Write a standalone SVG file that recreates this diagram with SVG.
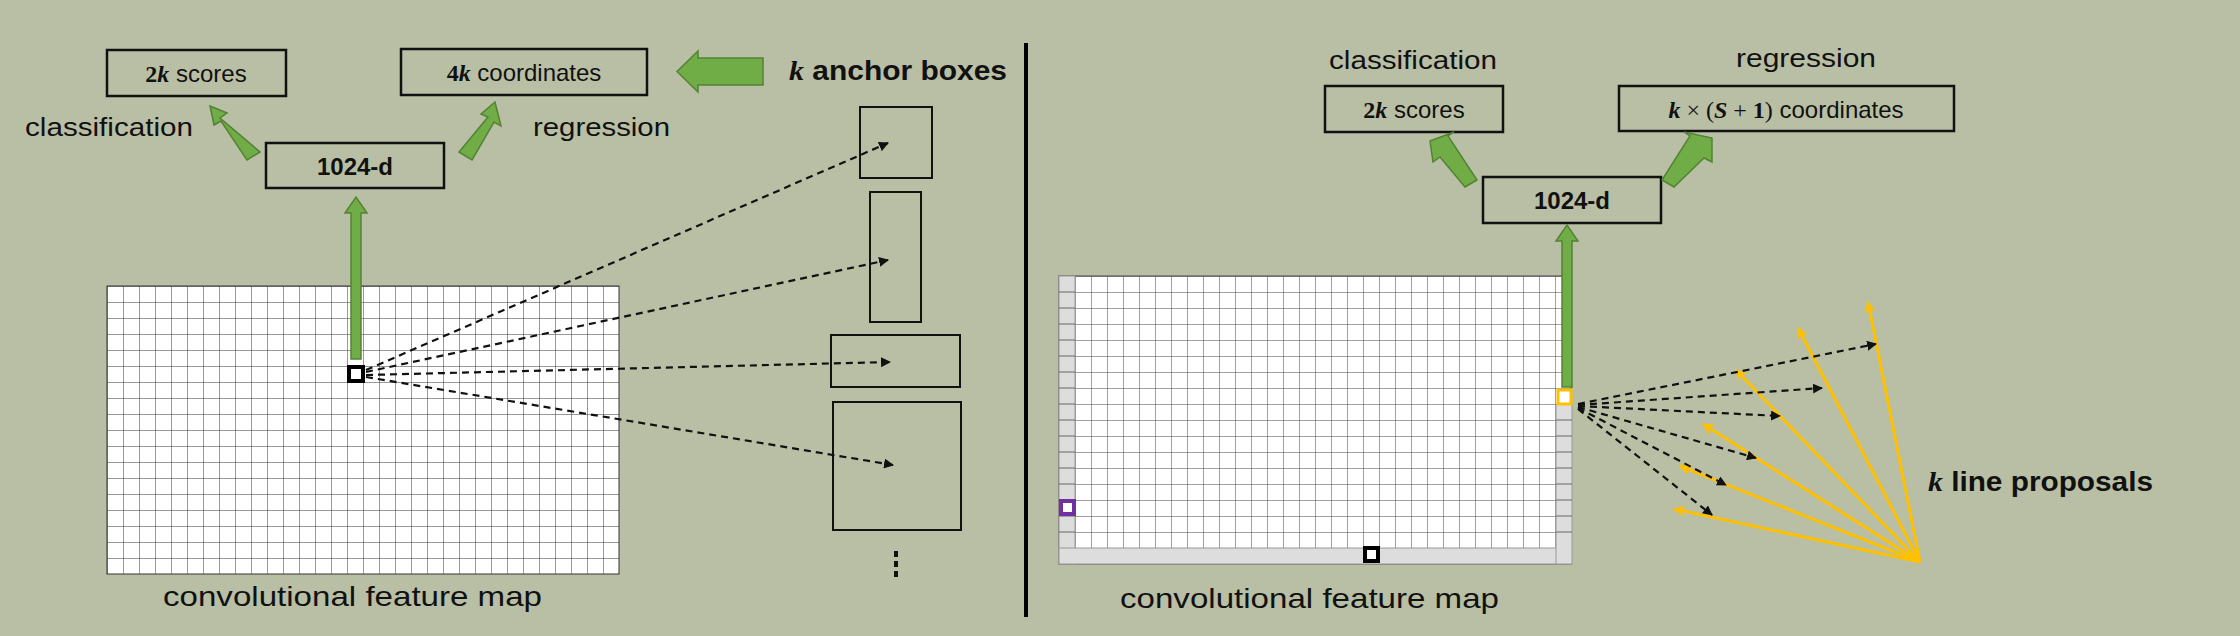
<svg xmlns="http://www.w3.org/2000/svg" width="2240" height="636" viewBox="0 0 2240 636">
<style>
.t{font-family:"Liberation Sans",Arial,sans-serif;fill:#111}
.b{font-weight:bold}
.box{fill:none;stroke:#111;stroke-width:2.5}
.g{fill:#70AD47;stroke:#548235;stroke-width:1.5}
.d{stroke:#111;stroke-width:2.2;stroke-dasharray:7,5;fill:none;marker-end:url(#ah)}
.o{stroke:#FFC000;stroke-width:3;fill:none;marker-end:url(#oh)}
</style>
<defs>
<pattern id="grid" width="16" height="16" patternUnits="userSpaceOnUse">
<rect width="16" height="16" fill="#fff"/>
<path d="M16 0V16M0 16H16" stroke="#333" stroke-width="1" fill="none"/>
</pattern>
<pattern id="grid2" x="1059" y="276" width="16" height="16" patternUnits="userSpaceOnUse">
<rect width="16" height="16" fill="#fff"/>
<path d="M0 0V16M0 0H16" stroke="#444" stroke-width="1" fill="none"/>
</pattern>
<pattern id="gridL" x="107" y="286" width="16" height="16" patternUnits="userSpaceOnUse">
<rect width="16" height="16" fill="#fff"/>
<path d="M0 0V16M0 0H16" stroke="#333" stroke-width="1" fill="none"/>
</pattern>
<marker id="ah" markerWidth="10" markerHeight="10" refX="9" refY="5" orient="auto" markerUnits="userSpaceOnUse"><path d="M0 0L10 5L0 10Z" fill="#111"/></marker>
<marker id="oh" markerWidth="12" markerHeight="12" refX="11" refY="6" orient="auto" markerUnits="userSpaceOnUse"><path d="M0 0L12 6L0 12L4 6Z" fill="#FFC000"/></marker>
</defs>
<rect width="2240" height="636" fill="#B9BFA4"/>
<line x1="1026" y1="43" x2="1026" y2="617" stroke="#000" stroke-width="4"/>

<g id="left-map">
<rect x="107" y="286" width="512" height="288" fill="url(#gridL)" stroke="#333" stroke-width="1"/>
<rect x="349" y="367" width="14" height="14" fill="#fff" stroke="#000" stroke-width="4"/>
<text class="t" x="163" y="606" font-size="28" textLength="379" lengthAdjust="spacingAndGlyphs">convolutional feature map</text>
</g>
<g id="left-1024"><rect class="box" x="266" y="143" width="178" height="45"/><text class="t b" x="355" y="175" font-size="24" text-anchor="middle" font-family="Liberation Serif">1024-d</text></g>
<g id="left-scores"><rect class="box" x="107" y="50" width="179" height="46"/><text class="t" x="196" y="82" font-size="24" text-anchor="middle"><tspan class="b" font-family="Liberation Serif">2</tspan><tspan class="b" font-style="italic" font-family="Liberation Serif">k</tspan> scores</text></g>
<g id="left-coords"><rect class="box" x="401" y="49" width="246" height="46"/><text class="t" x="524" y="81" font-size="24" text-anchor="middle"><tspan class="b" font-family="Liberation Serif">4</tspan><tspan class="b" font-style="italic" font-family="Liberation Serif">k</tspan> coordinates</text></g>
<text class="t" x="25" y="136" font-size="26" textLength="168" lengthAdjust="spacingAndGlyphs">classification</text>
<text class="t" x="533" y="136" font-size="26" textLength="137" lengthAdjust="spacingAndGlyphs">regression</text>
<text class="t b" x="789" y="80" font-size="28" textLength="218" lengthAdjust="spacingAndGlyphs"><tspan font-style="italic" font-family="Liberation Serif">k</tspan> anchor boxes</text>
<g id="anchors" fill="none" stroke="#111" stroke-width="2">
<rect x="860" y="107" width="72" height="71"/>
<rect x="870" y="192" width="51" height="130"/>
<rect x="831" y="335" width="129" height="52"/>
<rect x="833" y="402" width="128" height="128"/>
<g fill="#111" stroke="none"><rect x="894" y="551" width="4" height="6"/><rect x="894" y="561" width="4" height="6"/><rect x="894" y="571" width="4" height="6"/></g>
</g>

<g id="right-map">
<rect x="1059" y="276" width="512" height="288" fill="url(#grid2)" stroke="#444" stroke-width="1"/>
<rect x="1059" y="276" width="16" height="288" fill="#ddd" stroke="#999"/>
<rect x="1059" y="548" width="512" height="16" fill="#ddd" stroke="#999"/>
<rect x="1556" y="404" width="16" height="160" fill="#ddd" stroke="#999"/>
<path d="M1059 292H1075M1059 308H1075M1059 324H1075M1059 340H1075M1059 356H1075M1059 372H1075M1059 388H1075M1059 404H1075M1059 420H1075M1059 436H1075M1059 452H1075M1059 468H1075M1059 484H1075M1059 500H1075M1059 516H1075M1059 532H1075M1556 420H1572M1556 436H1572M1556 452H1572M1556 468H1572M1556 484H1572M1556 500H1572M1556 516H1572M1556 532H1572" stroke="#666" stroke-width="1"/>
<rect x="1061" y="501" width="13" height="13" fill="#fff" stroke="#7030A0" stroke-width="4"/>
<rect x="1365" y="548" width="13" height="13" fill="#fff" stroke="#000" stroke-width="4"/>
<rect x="1558" y="390" width="13" height="14" fill="none" stroke="#FFC000" stroke-width="3"/>
<text class="t" x="1120" y="608" font-size="28" textLength="379" lengthAdjust="spacingAndGlyphs">convolutional feature map</text>
</g>
<g id="right-1024"><rect class="box" x="1483" y="177" width="178" height="46"/><text class="t b" x="1572" y="209" font-size="24" text-anchor="middle" font-family="Liberation Serif">1024-d</text></g>
<g id="right-scores"><rect class="box" x="1325" y="86" width="178" height="46"/><text class="t" x="1414" y="118" font-size="24" text-anchor="middle"><tspan class="b" font-family="Liberation Serif">2</tspan><tspan class="b" font-style="italic" font-family="Liberation Serif">k</tspan> scores</text></g>
<g id="right-coords"><rect class="box" x="1619" y="86" width="335" height="45"/><text class="t" x="1786" y="118" font-size="24" text-anchor="middle"><tspan class="b" font-style="italic" font-family="Liberation Serif">k</tspan><tspan font-family="Liberation Serif"> × (</tspan><tspan class="b" font-style="italic" font-family="Liberation Serif">S</tspan><tspan font-family="Liberation Serif"> + </tspan><tspan class="b" font-family="Liberation Serif">1</tspan><tspan font-family="Liberation Serif">)</tspan> coordinates</text></g>
<text class="t" x="1329" y="69" font-size="26" textLength="168" lengthAdjust="spacingAndGlyphs">classification</text>
<text class="t" x="1736" y="67" font-size="26" textLength="140" lengthAdjust="spacingAndGlyphs">regression</text>
<text class="t b" x="1928" y="491" font-size="28" textLength="225" lengthAdjust="spacingAndGlyphs"><tspan font-style="italic" font-family="Liberation Serif">k</tspan> line proposals</text>

<g id="connectors">
<!-- green block arrows -->
<path class="g" d="M351 359V213H345L356 197L367 213H361V359Z"/>
<path class="g" d="M763 58V85H698V92L677 71.5L698 51V58Z"/>
<path class="g" d="M260 152L247 160L221 121L214 125L210 106L227 113L220 118Z" transform="rotate(0)"/>
<path class="g" d="M459 152L472 160L494 122L501 126L495 102L481 114L488 117Z"/>
<path class="g" d="M1562 387V241H1556L1567 225L1578 241H1572V387Z"/>
<path class="g" d="M1465 187L1477 180L1448 136L1454 132L1430 141L1433 162L1440 157Z"/>
<path class="g" d="M1674 187L1662 180L1690 136L1684 132L1712 138L1712 162L1704 158Z"/>
<!-- dashed left -->
<path class="d" d="M366 370L888 143"/>
<path class="d" d="M366 372L888 260"/>
<path class="d" d="M366 375L890 362"/>
<path class="d" d="M366 377L893 465"/>
<!-- orange -->
<path class="o" d="M1920 562L1868 302"/>
<path class="o" d="M1920 562L1798 328"/>
<path class="o" d="M1920 562L1736 370"/>
<path class="o" d="M1920 562L1703 424"/>
<path class="o" d="M1920 562L1680 466"/>
<path class="o" d="M1920 562L1674 509"/>
<!-- dashed right -->
<path class="d" d="M1578 404L1876 344"/>
<path class="d" d="M1578 405L1822 388"/>
<path class="d" d="M1578 406L1780 416"/>
<path class="d" d="M1578 407L1756 458"/>
<path class="d" d="M1578 408L1726 485"/>
<path class="d" d="M1578 409L1712 515"/>
</g>
</svg>
